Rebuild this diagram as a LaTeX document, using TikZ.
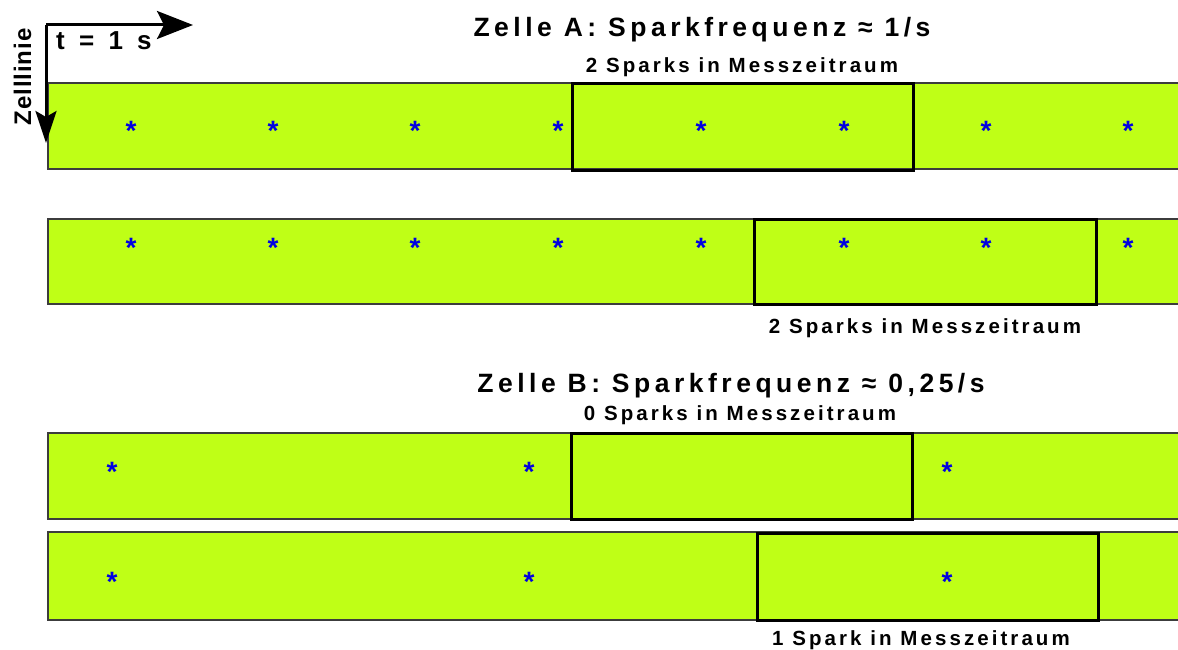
\documentclass[tikz,border=0pt]{standalone}
\usepackage{fontspec}
\usetikzlibrary{arrows.meta}
\setmainfont{Liberation Sans}
\newfontfamily\spacedT[LetterSpace=17]{Liberation Sans}
\newfontfamily\spacedC[LetterSpace=15]{Liberation Sans}
\newfontfamily\spacedS[LetterSpace=27]{Liberation Sans}
\newfontfamily\spacedZ[LetterSpace=4]{Liberation Sans}
\definecolor{lime}{RGB}{191,255,22}
\definecolor{starblue}{RGB}{0,0,225}
\definecolor{barline}{RGB}{60,60,60}
\begin{document}
\begin{tikzpicture}[x=1pt,y=-1pt,
  barfill/.style={fill=lime},
  barline/.style={draw=barline,line width=1.3pt},
  window/.style={draw=black,line width=3pt,inner sep=0pt},
  spark/.style={text=starblue,font=\bfseries\fontsize{28}{28}\selectfont,inner sep=0pt,anchor=base,yshift=-13pt},
  title/.style={font=\spacedT\bfseries\fontsize{26.5}{28}\selectfont,inner sep=0pt,anchor=base},
  caption/.style={font=\spacedC\bfseries\fontsize{20.5}{22}\selectfont,inner sep=0pt,anchor=base},
  axis/.style={line width=3pt}]
\useasboundingbox (0,0) rectangle (1178,650);
% bars
\foreach \t/\b in {83/169,219/304,433/519,532/620}{
  \fill[barfill] (48,\t) rectangle (1178,\b);
  \draw[barline] (1178,\t) -- (48,\t) -- (48,\b) -- (1178,\b);
}
% measuring windows
\node[window,minimum width=341pt,minimum height=86pt] (w1) at (742.5,127) {};
\node[window,minimum width=342pt,minimum height=85pt] (w2) at (925,261.5) {};
\node[window,minimum width=341pt,minimum height=86pt] (w3) at (741.5,476) {};
\node[window,minimum width=341pt,minimum height=87pt] (w4) at (927.5,576.5) {};
% sparks
\foreach \x [count=\i] in {131,273,415,558,701,844,986,1128}{
  \node[spark] (a\i) at (\x,128) {*};
  \node[spark] (b\i) at (\x,244) {*};
}
\foreach \x [count=\i] in {112,529,947}{
  \node[spark] (c\i) at (\x,468) {*};
  \node[spark] (d\i) at (\x,578) {*};
}
% texts
\node[title] (tA) at (702,37) {Zelle A: Sparkfrequenz ≈ 1/s};
\node[caption] (l1) at (742,73) {2 Sparks in Messzeitraum};
\node[caption] (l2) at (925,333) {2 Sparks in Messzeitraum};
\node[title] (tB) at (731,392) {Zelle B: Sparkfrequenz ≈ 0,25/s};
\node[caption] (l3) at (740,420) {0 Sparks in Messzeitraum};
\node[caption] (l4) at (921,645) {1 Spark in Messzeitraum};
% axes
\coordinate (o) at (46,25);
\coordinate (tx) at (193,25);
\coordinate (ty) at (46,143);
\draw[axis,-{Stealth[length=36pt,width=28pt,inset=7pt]}] (o) -- (tx);
\draw[axis,-{Stealth[length=32pt,width=21pt,inset=6pt]}] (o) -- (ty);
\node[font=\spacedS\bfseries\fontsize{26}{28}\selectfont,inner sep=0pt,anchor=base west] (tl) at (56,50) {t = 1 s};
\node[font=\spacedZ\bfseries\fontsize{24}{26}\selectfont,inner sep=0pt,anchor=base,rotate=90] (zl) at (31,77) {Zelllinie};
\end{tikzpicture}
\end{document}
